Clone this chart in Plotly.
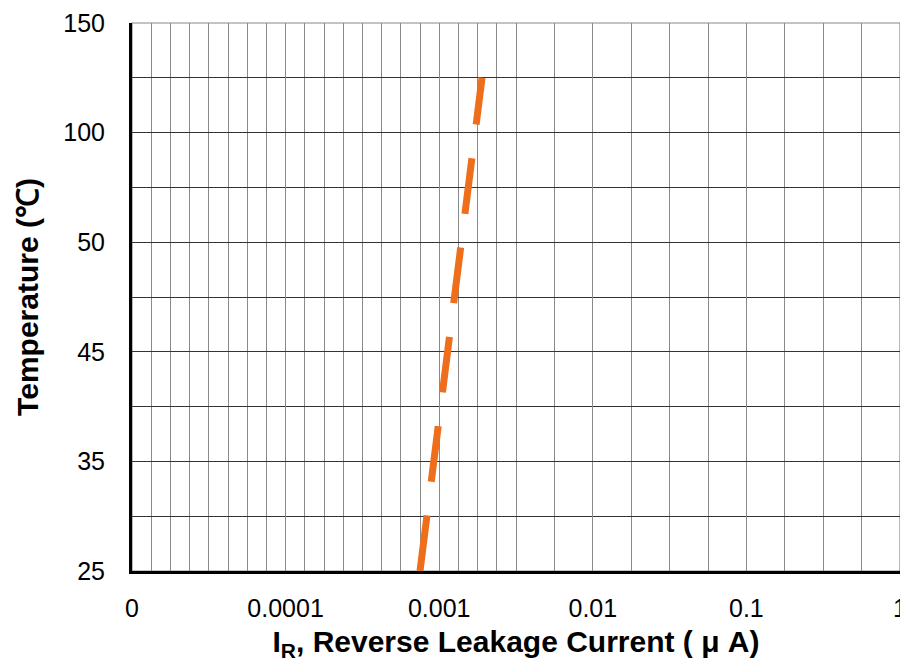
import numpy as np
import plotly.graph_objects as go

# ---- data ----
temp_tick_values = [25, 35, 45, 50, 100, 150]           # temperature axis labels (equally spaced)
temp_tick_labels = ["25", "35", "45", "50", "100", "150"]
current_tick_values = [1e-5, 1e-4, 1e-3, 1e-2, 1e-1, 1]  # reverse leakage current axis (uA)
current_tick_labels = ["0", "0.0001", "0.001", "0.01", "0.1", "1"]

line_temperature = [25, 125]          # degC
line_current = [0.00075, 0.0019]      # uA

# temperature axis is a piece-wise (equally spaced label) scale
temp_axis_pos = np.interp(line_temperature, temp_tick_values, np.arange(len(temp_tick_values)))

# vertical grid lines: fine spacing in the lower decades, coarser above
minor_x = [10 ** (-5 + 0.125 * k) for k in range(1, 21) if (0.125 * k) % 1 != 0]
minor_x += [10 ** (-2.5 + 0.25 * k) for k in range(1, 10) if (0.25 * k + 0.5) % 1 != 0]

FONT = "Liberation Sans, Arial, sans-serif"

fig = go.Figure()
fig.add_trace(go.Scatter(
    x=line_current, y=temp_axis_pos, mode="lines",
    line=dict(color="#EE6E1C", width=7, dash="56px,34px"),
    showlegend=False, hoverinfo="skip",
))

# the page body adds an 8px margin; figure offset accordingly
fig.update_layout(
    width=908, height=654,
    margin=dict(l=124, r=16, t=15, b=91, autoexpand=False),
    paper_bgcolor="white", plot_bgcolor="white",
    font=dict(family=FONT, size=25, color="black"),
    xaxis=dict(
        type="log", range=[-5, 0], automargin=False,
        tickmode="array", tickvals=current_tick_values, ticktext=current_tick_labels,
        showgrid=True, gridcolor="#8a8a8a", gridwidth=1.2,
        minor=dict(tickmode="array", tickvals=minor_x, showgrid=True,
                   gridcolor="#8a8a8a", gridwidth=1.2, ticks=""),
        showline=True, linecolor="black", linewidth=3,
        ticks="", ticklabelstandoff=13, ticklabeloverflow="allow",
        zeroline=False,
        title=dict(text="I<sub>R</sub>, Reverse Leakage Current ( μ A)",
                   font=dict(family=FONT, size=30, weight="bold"), standoff=20),
    ),
    yaxis=dict(
        range=[0, 5], automargin=False,
        tickmode="array", tickvals=list(range(len(temp_tick_labels))), ticktext=temp_tick_labels,
        showgrid=True, gridcolor="#333333", gridwidth=1.3,
        minor=dict(dtick=0.5, tick0=0, showgrid=True, gridcolor="#333333", gridwidth=1.3, ticks=""),
        showline=True, linecolor="black", linewidth=3,
        ticks="", ticklabelstandoff=19, ticklabeloverflow="allow",
        zeroline=False,
        title=dict(text="Temperature (℃)",
                   font=dict(family=FONT, size=30, weight="bold"), standoff=16),
    ),
)

# thin frame on the top and right sides
fig.add_shape(type="rect", xref="paper", yref="paper", x0=0, y0=0, x1=1, y1=1,
              line=dict(color="#8a8a8a", width=1.2), layer="below")

fig.write_html("out.html")
